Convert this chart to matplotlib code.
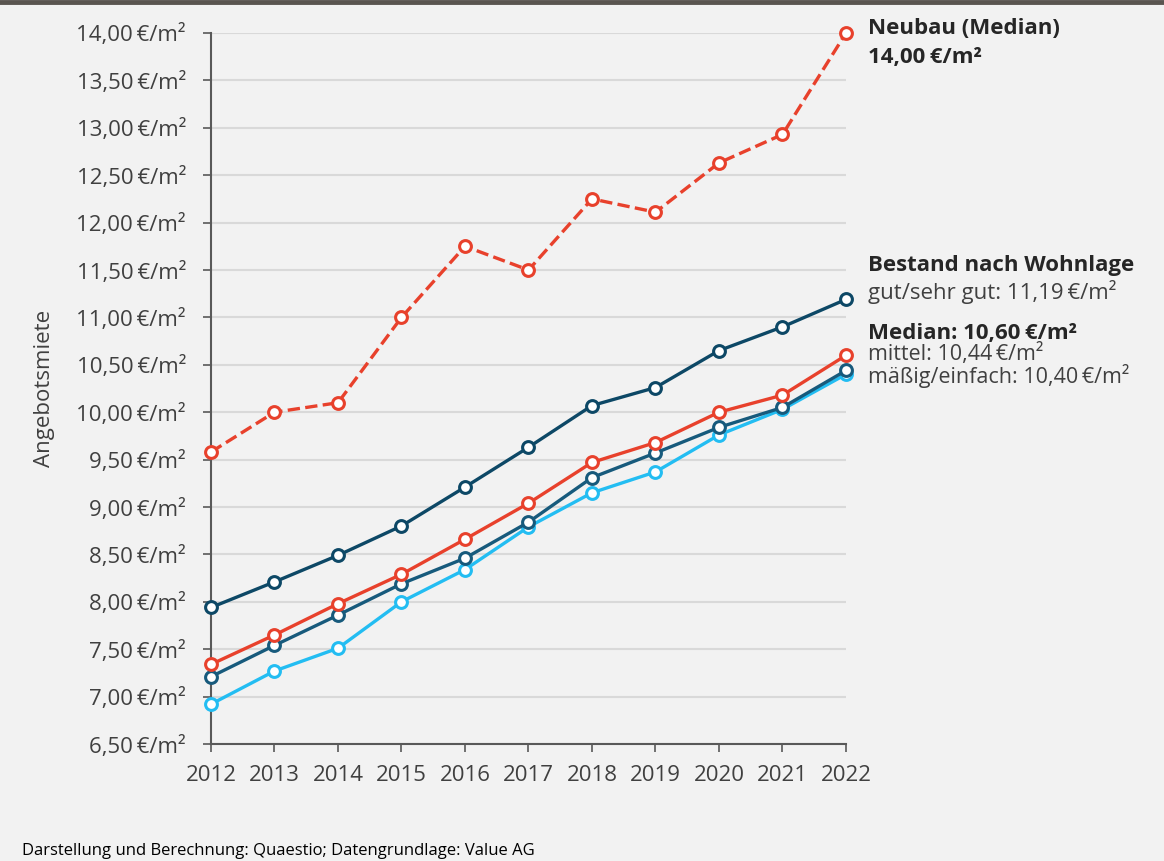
import matplotlib
matplotlib.use("Agg")
import matplotlib.pyplot as plt
from matplotlib.ticker import FuncFormatter

# --- Daten ---
jahre = [2012, 2013, 2014, 2015, 2016, 2017, 2018, 2019, 2020, 2021, 2022]
neubau_median = [9.58, 10.00, 10.10, 11.00, 11.75, 11.50, 12.25, 12.11, 12.63, 12.93, 14.00]
bestand_gut = [7.94, 8.21, 8.49, 8.80, 9.21, 9.63, 10.07, 10.26, 10.65, 10.90, 11.19]
bestand_median = [7.34, 7.65, 7.98, 8.29, 8.66, 9.04, 9.47, 9.68, 10.00, 10.18, 10.60]
bestand_mittel = [7.21, 7.54, 7.86, 8.19, 8.46, 8.84, 9.31, 9.57, 9.84, 10.05, 10.44]
bestand_einfach = [6.92, 7.27, 7.51, 8.00, 8.34, 8.79, 9.15, 9.37, 9.76, 10.03, 10.40]
y_ticks = [6.5, 7.0, 7.5, 8.0, 8.5, 9.0, 9.5, 10.0, 10.5, 11.0, 11.5, 12.0, 12.5, 13.0, 13.5, 14.0]

# --- Stil ---
BG = "#f2f2f2"
ROT = "#e8412c"
NAVY = "#0d4866"
TEAL = "#175a7c"
HELLBLAU = "#23bdf2"
TEXT = "#404040"

plt.rcParams['font.family'] = ['Open Sans', 'DejaVu Sans']

fig = plt.figure(figsize=(11.64, 8.61), dpi=100, facecolor=BG)
ax = fig.add_axes([211 / 1164, 1 - 744 / 861, 635 / 1164, 711 / 861])
ax.set_facecolor(BG)

def euro(v, pos):
    return f"{v:.2f}".replace(".", ",") + "\u2009€/m²"

serien = [
    (bestand_einfach, HELLBLAU, "-"),
    (bestand_mittel, TEAL, "-"),
    (bestand_median, ROT, "-"),
    (bestand_gut, NAVY, "-"),
    (neubau_median, ROT, "--"),
]
for werte, farbe, ls in serien:
    ax.plot(jahre, werte, color=farbe, linestyle=ls, linewidth=2.4,
            marker="o", markersize=8.5, markerfacecolor="white",
            markeredgecolor=farbe, markeredgewidth=2.2, clip_on=False, zorder=3)

ax.set_xlim(2012, 2022)
ax.set_ylim(6.5, 14.0)
ax.set_xticks(jahre)
ax.set_yticks(y_ticks)
ax.yaxis.set_major_formatter(FuncFormatter(euro))
ax.grid(axis="y", color="#d9d9d9", linewidth=1.5, zorder=0)
ax.set_axisbelow(True)

for s in ["top", "right"]:
    ax.spines[s].set_visible(False)
for s in ["left", "bottom"]:
    ax.spines[s].set_color("#595959")
    ax.spines[s].set_linewidth(1.5)

ax.tick_params(axis="y", length=6, width=1.2, color="#595959", labelsize=16,
               labelcolor=TEXT, pad=12)
ax.tick_params(axis="x", length=6, width=1.2, color="#595959", labelsize=16,
               labelcolor=TEXT, pad=9)
ax.set_ylabel("Angebotsmiete", fontsize=16, color=TEXT)
ax.yaxis.set_label_coords((55 - 211) / 635, 0.5)

# --- Beschriftungen rechts ---
def txt(y_px, s, bold=False, size=16):
    fig.text(868 / 1164, 1 - y_px / 861, s, fontsize=size, va="center", ha="left",
             fontweight="bold" if bold else "normal",
             color="#262626" if bold else TEXT)

txt(29, "Neubau (Median)", bold=True)
txt(58, "14,00\u2009€/m²", bold=True)
txt(266, "Bestand nach Wohnlage", bold=True)
txt(292, "gut/sehr gut: 11,19\u2009€/m²")
txt(334, "Median: 10,60\u2009€/m²", bold=True)
txt(354, "mittel: 10,44\u2009€/m²", size=15.5)
txt(376, "mäßig/einfach: 10,40\u2009€/m²", size=15.5)

fig.text(22 / 1164, 1 - 851 / 861, "Darstellung und Berechnung: Quaestio; Datengrundlage: Value AG",
         fontsize=12, color="#000000", va="center", ha="left")

# oberer Rand
fig.add_artist(plt.Line2D([0, 1], [1 - 2 / 861, 1 - 2 / 861], transform=fig.transFigure,
                          color="#5a5550", linewidth=3.5))

fig.savefig("out.png", dpi=100, facecolor=BG)
